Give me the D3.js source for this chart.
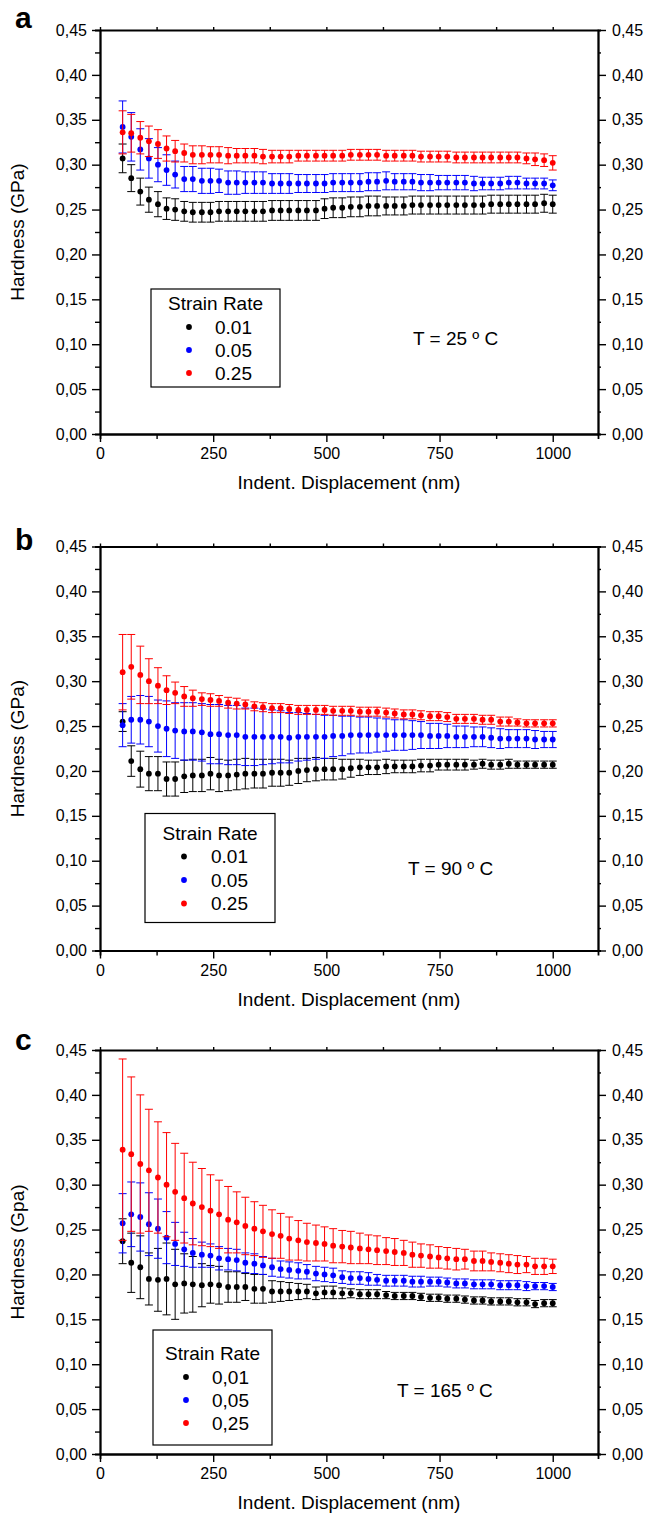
<!DOCTYPE html>
<html>
<head>
<meta charset="utf-8">
<script src="https://cdn.jsdelivr.net/npm/d3@7"></script>
<style>
  body { margin: 0; background: #fff; }
  svg text { font-family: Arial, "Liberation Sans", sans-serif; fill: #000; }
</style>
</head>
<body>
<div id="chart"></div>
<script>
// indentation depth of every measured point (nm)
var displacement = [50, 69, 89, 108, 128, 147, 166, 186, 205, 225,
  244, 263, 283, 302, 321, 341, 360, 380, 399, 418,
  438, 457, 477, 496, 515, 535, 554, 574, 593, 612,
  632, 651, 671, 690, 709, 729, 748, 767, 787, 806,
  826, 845, 864, 884, 903, 922, 942, 961, 981, 1000];

// panel a, T = 25 C
var hardA01 = [0.307, 0.285, 0.270, 0.261, 0.256, 0.251, 0.250, 0.248, 0.247, 0.247,
  0.247, 0.248, 0.248, 0.248, 0.248, 0.248, 0.248, 0.249, 0.249, 0.249,
  0.249, 0.249, 0.249, 0.251, 0.252, 0.252, 0.253, 0.253, 0.254, 0.254,
  0.254, 0.254, 0.254, 0.255, 0.255, 0.255, 0.255, 0.255, 0.255, 0.255,
  0.255, 0.255, 0.256, 0.256, 0.256, 0.256, 0.256, 0.256, 0.257, 0.256];
var errA01 = [0.016, 0.015, 0.015, 0.014, 0.014, 0.012, 0.012, 0.011, 0.011, 0.011,
  0.011, 0.011, 0.011, 0.011, 0.011, 0.011, 0.011, 0.011, 0.011, 0.011,
  0.011, 0.011, 0.011, 0.011, 0.011, 0.011, 0.011, 0.011, 0.011, 0.011,
  0.010, 0.010, 0.010, 0.010, 0.010, 0.010, 0.010, 0.010, 0.010, 0.010,
  0.010, 0.010, 0.010, 0.010, 0.010, 0.010, 0.010, 0.010, 0.010, 0.010];
var hardA05 = [0.342, 0.331, 0.317, 0.307, 0.300, 0.294, 0.289, 0.284, 0.284, 0.282,
  0.282, 0.282, 0.280, 0.280, 0.280, 0.280, 0.280, 0.279, 0.279, 0.279,
  0.279, 0.279, 0.279, 0.279, 0.280, 0.280, 0.280, 0.280, 0.281, 0.281,
  0.282, 0.281, 0.281, 0.281, 0.280, 0.280, 0.280, 0.280, 0.280, 0.280,
  0.279, 0.279, 0.279, 0.279, 0.280, 0.280, 0.279, 0.279, 0.279, 0.277];
var errA05 = [0.029, 0.027, 0.023, 0.022, 0.019, 0.017, 0.015, 0.014, 0.014, 0.014,
  0.014, 0.013, 0.013, 0.013, 0.012, 0.012, 0.012, 0.011, 0.011, 0.011,
  0.010, 0.010, 0.010, 0.010, 0.010, 0.010, 0.010, 0.010, 0.010, 0.010,
  0.010, 0.009, 0.009, 0.009, 0.009, 0.009, 0.008, 0.008, 0.008, 0.008,
  0.008, 0.007, 0.007, 0.007, 0.007, 0.007, 0.006, 0.006, 0.006, 0.006];
var hardA25 = [0.336, 0.335, 0.330, 0.326, 0.323, 0.318, 0.315, 0.313, 0.311, 0.311,
  0.311, 0.311, 0.310, 0.310, 0.310, 0.310, 0.309, 0.309, 0.309, 0.309,
  0.310, 0.310, 0.310, 0.310, 0.310, 0.310, 0.311, 0.311, 0.311, 0.311,
  0.310, 0.310, 0.310, 0.310, 0.309, 0.309, 0.309, 0.309, 0.308, 0.308,
  0.308, 0.308, 0.308, 0.308, 0.308, 0.308, 0.307, 0.306, 0.305, 0.302];
var errA25 = [0.024, 0.021, 0.018, 0.017, 0.016, 0.014, 0.012, 0.010, 0.010, 0.010,
  0.009, 0.009, 0.009, 0.008, 0.008, 0.008, 0.008, 0.007, 0.007, 0.007,
  0.006, 0.006, 0.006, 0.006, 0.006, 0.006, 0.006, 0.006, 0.006, 0.006,
  0.006, 0.006, 0.006, 0.006, 0.006, 0.006, 0.006, 0.006, 0.006, 0.006,
  0.006, 0.006, 0.006, 0.006, 0.006, 0.006, 0.006, 0.007, 0.007, 0.008];

// panel b, T = 90 C
var hardB01 = [0.255, 0.211, 0.202, 0.197, 0.197, 0.191, 0.191, 0.194, 0.195, 0.195,
  0.197, 0.195, 0.195, 0.196, 0.197, 0.197, 0.197, 0.198, 0.198, 0.198,
  0.200, 0.201, 0.202, 0.202, 0.202, 0.202, 0.203, 0.204, 0.204, 0.204,
  0.205, 0.205, 0.205, 0.205, 0.206, 0.206, 0.207, 0.207, 0.207, 0.207,
  0.207, 0.208, 0.207, 0.207, 0.208, 0.207, 0.207, 0.207, 0.207, 0.207];
var errB01 = [0.011, 0.017, 0.020, 0.019, 0.019, 0.019, 0.019, 0.018, 0.018, 0.018,
  0.018, 0.018, 0.017, 0.017, 0.017, 0.016, 0.016, 0.015, 0.015, 0.014,
  0.014, 0.013, 0.013, 0.012, 0.012, 0.011, 0.010, 0.009, 0.008, 0.008,
  0.008, 0.007, 0.007, 0.007, 0.007, 0.007, 0.006, 0.006, 0.006, 0.006,
  0.005, 0.005, 0.005, 0.005, 0.005, 0.004, 0.004, 0.004, 0.004, 0.004];
var hardB05 = [0.251, 0.257, 0.257, 0.255, 0.250, 0.247, 0.245, 0.244, 0.244, 0.243,
  0.241, 0.241, 0.240, 0.240, 0.238, 0.238, 0.238, 0.238, 0.238, 0.237,
  0.238, 0.238, 0.238, 0.238, 0.239, 0.239, 0.240, 0.240, 0.240, 0.240,
  0.240, 0.240, 0.240, 0.240, 0.240, 0.239, 0.239, 0.239, 0.238, 0.238,
  0.238, 0.238, 0.237, 0.236, 0.236, 0.236, 0.236, 0.235, 0.235, 0.235];
var errB05 = [0.024, 0.026, 0.027, 0.028, 0.029, 0.031, 0.031, 0.032, 0.032, 0.032,
  0.033, 0.033, 0.033, 0.033, 0.032, 0.032, 0.031, 0.030, 0.029, 0.028,
  0.027, 0.026, 0.025, 0.024, 0.023, 0.022, 0.021, 0.020, 0.020, 0.019,
  0.018, 0.017, 0.017, 0.016, 0.015, 0.014, 0.014, 0.013, 0.012, 0.012,
  0.011, 0.011, 0.011, 0.011, 0.010, 0.010, 0.010, 0.010, 0.009, 0.009];
var hardB25 = [0.310, 0.316, 0.307, 0.300, 0.295, 0.290, 0.287, 0.283, 0.281, 0.280,
  0.279, 0.278, 0.276, 0.275, 0.274, 0.272, 0.271, 0.270, 0.270, 0.269,
  0.268, 0.268, 0.268, 0.268, 0.267, 0.267, 0.267, 0.266, 0.266, 0.266,
  0.265, 0.264, 0.263, 0.263, 0.262, 0.261, 0.261, 0.260, 0.258, 0.258,
  0.258, 0.257, 0.257, 0.255, 0.255, 0.254, 0.253, 0.253, 0.253, 0.253];
var errB25 = [0.042, 0.036, 0.032, 0.025, 0.020, 0.016, 0.012, 0.011, 0.009, 0.007,
  0.007, 0.006, 0.006, 0.006, 0.005, 0.005, 0.005, 0.005, 0.005, 0.005,
  0.005, 0.005, 0.005, 0.005, 0.005, 0.005, 0.005, 0.005, 0.005, 0.005,
  0.005, 0.005, 0.005, 0.005, 0.005, 0.005, 0.005, 0.005, 0.005, 0.005,
  0.005, 0.005, 0.005, 0.005, 0.005, 0.004, 0.004, 0.004, 0.004, 0.004];

// panel c, T = 165 C
var hardC01 = [0.237, 0.213, 0.208, 0.195, 0.194, 0.195, 0.189, 0.190, 0.189, 0.188,
  0.189, 0.188, 0.186, 0.186, 0.186, 0.184, 0.184, 0.181, 0.181, 0.181,
  0.181, 0.181, 0.179, 0.180, 0.180, 0.179, 0.179, 0.178, 0.178, 0.178,
  0.177, 0.176, 0.176, 0.176, 0.175, 0.174, 0.174, 0.173, 0.173, 0.172,
  0.171, 0.171, 0.170, 0.170, 0.170, 0.169, 0.169, 0.167, 0.168, 0.168];
var errC01 = [0.025, 0.033, 0.035, 0.029, 0.035, 0.040, 0.039, 0.033, 0.031, 0.024,
  0.021, 0.021, 0.017, 0.017, 0.015, 0.016, 0.016, 0.012, 0.011, 0.010,
  0.009, 0.008, 0.007, 0.007, 0.007, 0.006, 0.005, 0.005, 0.005, 0.005,
  0.004, 0.004, 0.004, 0.004, 0.004, 0.004, 0.004, 0.004, 0.004, 0.004,
  0.004, 0.004, 0.004, 0.004, 0.004, 0.004, 0.004, 0.004, 0.004, 0.004];
var hardC05 = [0.257, 0.267, 0.264, 0.256, 0.251, 0.241, 0.234, 0.228, 0.224, 0.222,
  0.221, 0.218, 0.217, 0.216, 0.213, 0.212, 0.210, 0.208, 0.206, 0.205,
  0.204, 0.203, 0.201, 0.200, 0.199, 0.197, 0.196, 0.196, 0.195, 0.194,
  0.193, 0.193, 0.193, 0.192, 0.192, 0.192, 0.192, 0.191, 0.190, 0.190,
  0.189, 0.189, 0.189, 0.188, 0.188, 0.188, 0.187, 0.187, 0.187, 0.186];
var errC05 = [0.033, 0.036, 0.038, 0.035, 0.033, 0.029, 0.024, 0.019, 0.016, 0.014,
  0.013, 0.013, 0.012, 0.012, 0.011, 0.011, 0.010, 0.010, 0.009, 0.009,
  0.009, 0.008, 0.008, 0.008, 0.008, 0.007, 0.007, 0.007, 0.007, 0.006,
  0.006, 0.006, 0.006, 0.006, 0.006, 0.005, 0.005, 0.005, 0.005, 0.005,
  0.005, 0.005, 0.005, 0.005, 0.005, 0.005, 0.005, 0.004, 0.004, 0.004];
var hardC25 = [0.339, 0.334, 0.323, 0.316, 0.308, 0.300, 0.292, 0.285, 0.279, 0.275,
  0.271, 0.267, 0.261, 0.258, 0.254, 0.251, 0.248, 0.245, 0.243, 0.240,
  0.238, 0.236, 0.235, 0.234, 0.232, 0.231, 0.230, 0.229, 0.228, 0.227,
  0.226, 0.225, 0.224, 0.222, 0.221, 0.220, 0.219, 0.218, 0.217, 0.217,
  0.215, 0.215, 0.214, 0.213, 0.212, 0.211, 0.211, 0.209, 0.209, 0.209];
var errC25 = [0.101, 0.086, 0.077, 0.068, 0.062, 0.058, 0.054, 0.050, 0.046, 0.043,
  0.040, 0.038, 0.037, 0.034, 0.032, 0.030, 0.029, 0.027, 0.025, 0.024,
  0.022, 0.021, 0.020, 0.019, 0.019, 0.018, 0.018, 0.017, 0.016, 0.016,
  0.015, 0.015, 0.014, 0.014, 0.013, 0.013, 0.012, 0.012, 0.012, 0.011,
  0.011, 0.011, 0.010, 0.010, 0.010, 0.010, 0.009, 0.009, 0.009, 0.008];

// legend entries and tick values
var rateLabelsDot = ["0.01", "0.05", "0.25"];
var rateLabelsComma = ["0,01", "0,05", "0,25"];
var rateColors = ["#000000", "#0000ff", "#ff0000"];
var yTicks = [0, 0.05, 0.10, 0.15, 0.20, 0.25, 0.30, 0.35, 0.40, 0.45];
var yMinorTicks = [0.025, 0.075, 0.125, 0.175, 0.225, 0.275, 0.325, 0.375, 0.425];
var xTicks = [0, 250, 500, 750, 1000];
var xMinorTicks = [125, 375, 625, 875];

// page layout
var width = 646, height = 1515;
var plotLeft = 100, plotRight = 598, plotH = 404;

var panels = [
  {letter: "a", letterY: 28, top: 30, yTitle: "Hardness (GPa)", temp: "T = 25 º C", tempX: 413, tempY: 308,
   series: [[hardA01, errA01], [hardA05, errA05], [hardA25, errA25]], labels: rateLabelsDot,
   legend: {x0: 151, x1: 280, y0: 259, y1: 357, title: 273, rows: [297, 320, 343], dot: 189, text: 215}},
  {letter: "b", letterY: 550, top: 546.5, yTitle: "Hardness (GPa)", temp: "T = 90 º C", tempX: 408, tempY: 322,
   series: [[hardB01, errB01], [hardB05, errB05], [hardB25, errB25]], labels: rateLabelsDot,
   legend: {x0: 145, x1: 275, y0: 267, y1: 376, title: 287, rows: [310, 333.5, 357], dot: 184, text: 211}},
  {letter: "c", letterY: 1050, top: 1050, yTitle: "Hardness (Gpa)", temp: "T = 165 º C", tempX: 397, tempY: 340,
   series: [[hardC01, errC01], [hardC05, errC05], [hardC25, errC25]], labels: rateLabelsComma,
   legend: {x0: 153, x1: 272, y0: 280, y1: 395, title: 303, rows: [327, 350, 373], dot: 186, text: 212}}
];

var svg = d3.select("#chart")
  .append("svg")
    .attr("width", width)
    .attr("height", height);

var x = d3.scaleLinear().domain([0, 1100]).range([plotLeft, plotRight]);
var y = d3.scaleLinear().domain([0, 0.45]).range([plotH, 0]);

var commaFormat = d3.formatLocale({decimal: ",", thousands: ".", grouping: [3], currency: ["", ""]}).format(".2f");

function styleAxis(sel, fontSize) {
  sel.attr("font-family", null).attr("font-size", null);
  sel.select(".domain").attr("stroke-width", 1.8);
  sel.selectAll(".tick line").attr("stroke-width", 1.4);
  sel.selectAll("text").style("font-size", fontSize + "px");
}

function drawPanel(p) {
  var g = svg.append("g")
    .attr("transform", "translate(0," + p.top + ")");

  // minor ticks first, then the main axes with the frame
  g.append("g").attr("transform", "translate(" + plotLeft + ",0)")
    .call(d3.axisLeft(y).tickValues(yMinorTicks).tickSize(5).tickFormat(""))
    .call(styleAxis, 16);
  g.append("g").attr("transform", "translate(" + plotRight + ",0)")
    .call(d3.axisRight(y).tickValues(yMinorTicks).tickSize(3).tickFormat(""))
    .call(styleAxis, 16);
  g.append("g").attr("transform", "translate(0," + plotH + ")")
    .call(d3.axisBottom(x).tickValues(xMinorTicks).tickSize(5).tickFormat(""))
    .call(styleAxis, 16);

  g.append("g").attr("transform", "translate(" + plotLeft + ",0)")
    .call(d3.axisLeft(y).tickValues(yTicks).tickSize(8).tickSizeOuter(0).tickPadding(5).tickFormat(commaFormat))
    .call(styleAxis, 16);
  g.append("g").attr("transform", "translate(" + plotRight + ",0)")
    .call(d3.axisRight(y).tickValues(yTicks).tickSize(8).tickSizeOuter(0).tickPadding(6).tickFormat(commaFormat))
    .call(styleAxis, 16);
  g.append("g").attr("transform", "translate(0," + plotH + ")")
    .call(d3.axisBottom(x).tickValues(xTicks).tickSize(8).tickSizeOuter(0).tickPadding(6).tickFormat(d3.format("d")))
    .call(styleAxis, 16);
  g.append("g")
    .call(d3.axisTop(x).tickValues(xTicks.concat(xMinorTicks)).tickSize(3).tickSizeOuter(0).tickFormat(""))
    .call(styleAxis, 16);

  // error bars and points, one series after the other
  p.series.forEach(function(s, k) {
    var vals = s[0], errs = s[1];
    var pts = displacement.map(function(d, i) { return {x: d, v: vals[i], e: errs[i]}; });
    var sg = g.append("g").attr("stroke", rateColors[k]).attr("fill", rateColors[k]);

    sg.selectAll(".bar")
      .data(pts)
      .enter()
      .append("path")
        .attr("class", "bar")
        .attr("fill", "none")
        .attr("stroke-width", 1)
        .attr("d", function(d) {
          var cx = x(d.x), y0 = y(d.v - d.e), y1 = y(d.v + d.e);
          return "M" + cx + "," + y0 + "V" + y1 +
                 "M" + (cx - 4) + "," + y1 + "H" + (cx + 4) +
                 "M" + (cx - 4) + "," + y0 + "H" + (cx + 4);
        });

    sg.selectAll(".dot")
      .data(pts)
      .enter()
      .append("circle")
        .attr("class", "dot")
        .attr("stroke", "none")
        .attr("cx", function(d) { return x(d.x); })
        .attr("cy", function(d) { return y(d.v); })
        .attr("r", 2.9);
  });

  // legend box
  var L = p.legend;
  g.append("rect")
    .attr("x", L.x0).attr("y", L.y0)
    .attr("width", L.x1 - L.x0).attr("height", L.y1 - L.y0)
    .attr("fill", "#fff").attr("stroke", "#000").attr("stroke-width", 1.2);
  g.append("text")
    .attr("x", (L.x0 + L.x1) / 2).attr("y", L.title).attr("dy", "0.35em")
    .attr("text-anchor", "middle")
    .style("font-size", "19px")
    .text("Strain Rate");
  p.labels.forEach(function(lab, k) {
    g.append("circle")
      .attr("cx", L.dot).attr("cy", L.rows[k]).attr("r", 2.9)
      .attr("fill", rateColors[k]);
    g.append("text")
      .attr("x", L.text).attr("y", L.rows[k]).attr("dy", "0.35em")
      .style("font-size", "19px")
      .text(lab);
  });

  // temperature note
  g.append("text")
    .attr("x", p.tempX).attr("y", p.tempY).attr("dy", "0.35em")
    .style("font-size", "19px")
    .text(p.temp);

  // axis titles
  g.append("text")
    .attr("x", (plotLeft + plotRight) / 2).attr("y", plotH + 55)
    .attr("text-anchor", "middle")
    .style("font-size", "19px")
    .text("Indent. Displacement (nm)");
  g.append("text")
    .attr("transform", "translate(24," + (plotH / 2) + ")rotate(-90)")
    .attr("text-anchor", "middle")
    .style("font-size", "19px")
    .text(p.yTitle);

  // panel letter
  svg.append("text")
    .attr("x", 15).attr("y", p.letterY)
    .style("font-size", "30px")
    .style("font-weight", "bold")
    .text(p.letter);
}

panels.forEach(drawPanel);
</script>
</body>
</html>
